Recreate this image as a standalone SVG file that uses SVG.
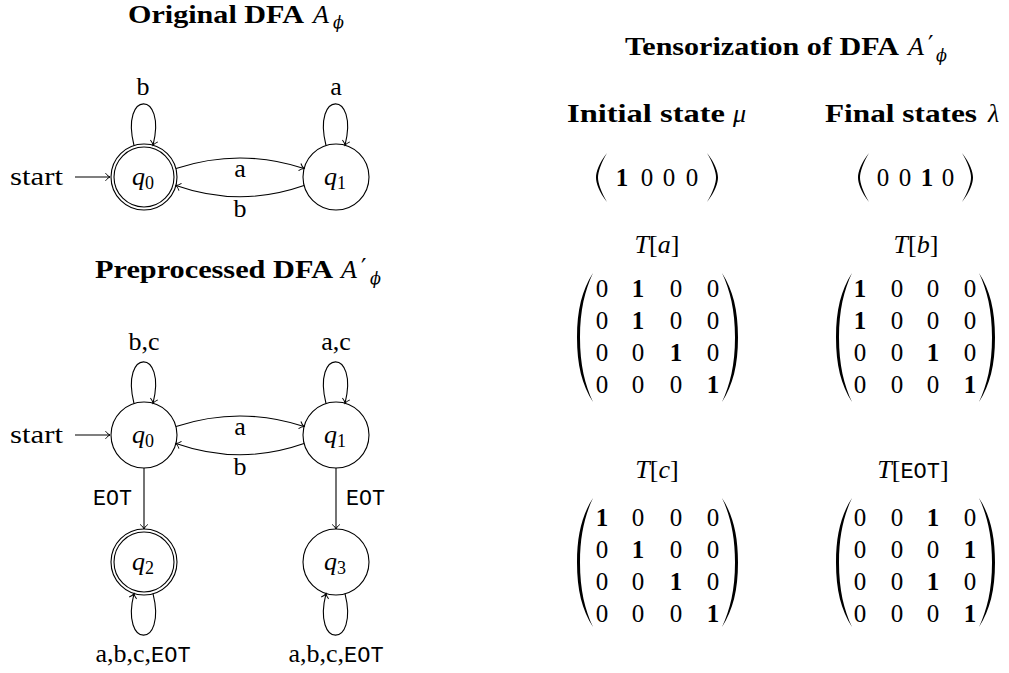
<svg xmlns="http://www.w3.org/2000/svg" width="1009" height="673" viewBox="0 0 1009 673">
<style>
text{font-family:"Liberation Serif","DejaVu Serif",serif;fill:#000}
.r{font-size:26px}
.bt{font-size:25px;font-weight:bold}
.mi{font-size:26px;font-style:italic}
.sub{font-size:18px}
.gr{font-family:"DejaVu Serif",serif;font-size:16px;font-style:italic;fill:#000}
.pr{font-family:"DejaVu Serif",serif;font-size:24px;fill:#000}
.tt{font-family:"Liberation Mono","DejaVu Sans Mono",monospace;font-size:22px}
.d{font-size:25px;text-anchor:middle}
.db{font-size:25px;font-weight:bold;text-anchor:middle}
.c{text-anchor:middle}
.st{fill:none;stroke:#000;stroke-width:1.1}
.par{fill:#000;stroke:none}
</style>
<defs>
<marker id="ah" markerUnits="userSpaceOnUse" markerWidth="12" markerHeight="12" viewBox="-6 -6 12 12" refX="0" refY="0" orient="auto">
<path d="M-4.5,-3.8 C-2.8,-1.6 -1.2,-0.5 0,0 C-1.2,0.5 -2.8,1.6 -4.5,3.8" fill="none" stroke="#000" stroke-width="1"/>
</marker>
</defs>

<!-- Titles -->
<g id="title-original">
<text class="bt" x="128" y="23" textLength="176" lengthAdjust="spacingAndGlyphs">Original DFA</text>
<text class="mi" x="313" y="23">A</text><text class="gr" x="333" y="28">ϕ</text>
</g>
<g id="title-preprocessed">
<text class="bt" x="95" y="278" textLength="238" lengthAdjust="spacingAndGlyphs">Preprocessed DFA</text>
<text class="mi" x="341" y="278">A</text><text class="pr" x="361" y="276">′</text><text class="gr" x="370" y="284">ϕ</text>
</g>
<g id="title-tensor">
<text class="bt" x="625" y="55" textLength="274" lengthAdjust="spacingAndGlyphs">Tensorization of DFA</text>
<text class="mi" x="908" y="55">A</text><text class="pr" x="928" y="53">′</text><text class="gr" x="936" y="61">ϕ</text>
</g>

<!-- Top DFA nodes -->
<g id="top-q0">
<circle class="st" cx="144" cy="177" r="33"/>
<circle class="st" cx="144" cy="177" r="30"/>
<text class="mi" x="132" y="185">q</text><text class="sub" x="145" y="189">0</text>
</g>
<g id="top-q1">
<circle class="st" cx="336" cy="177" r="33"/>
<text class="mi" x="324" y="185">q</text><text class="sub" x="337" y="189">1</text>
</g>
<g id="top-start"><text class="r" x="10" y="185" textLength="53" lengthAdjust="spacingAndGlyphs">start</text></g>

<!-- Bottom DFA nodes -->
<g id="bot-q0">
<circle class="st" cx="144" cy="435" r="33"/>
<text class="mi" x="132" y="443">q</text><text class="sub" x="145" y="447">0</text>
</g>
<g id="bot-q1">
<circle class="st" cx="336" cy="435" r="33"/>
<text class="mi" x="324" y="443">q</text><text class="sub" x="337" y="447">1</text>
</g>
<g id="bot-q2">
<circle class="st" cx="144" cy="562" r="33"/>
<circle class="st" cx="144" cy="562" r="30"/>
<text class="mi" x="132" y="570">q</text><text class="sub" x="145" y="574">2</text>
</g>
<g id="bot-q3">
<circle class="st" cx="336" cy="562" r="33"/>
<text class="mi" x="324" y="570">q</text><text class="sub" x="337" y="574">3</text>
</g>
<g id="bot-start"><text class="r" x="10" y="443" textLength="53" lengthAdjust="spacingAndGlyphs">start</text></g>

<!-- Connectors -->
<g id="connectors" class="st" marker-end="url(#ah)">
<path d="M75,177 L110,177"/>
<path d="M134,145.5 C120,90 167,90 153,145.3"/>
<path d="M326,145.5 C312,90 359,90 345,145.3"/>
<path d="M176,168.5 Q240,147.5 304,168.5"/>
<path d="M304,185.5 Q240,208 176,185.5"/>

<path d="M75,435 L110,435"/>
<path d="M134,403.5 C120,348 167,348 153,403.3"/>
<path d="M326,403.5 C312,348 359,348 345,403.3"/>
<path d="M176,426.5 Q240,405.5 304,426.5"/>
<path d="M304,443.5 Q240,466 176,443.5"/>
<path d="M144,468 L144,529"/>
<path d="M336,468 L336,529"/>
<path d="M153,593.7 C167,649 120,649 134,593.6"/>
<path d="M345,593.7 C359,649 312,649 326,593.6"/>
</g>

<!-- Edge labels -->
<g id="edge-labels">
<text class="r c" x="143" y="95">b</text>
<text class="r c" x="336" y="95">a</text>
<text class="r c" x="240" y="177">a</text>
<text class="r c" x="240" y="217">b</text>
<text class="r c" x="144" y="350">b,c</text>
<text class="r c" x="336" y="350">a,c</text>
<text class="r c" x="240" y="435">a</text>
<text class="r c" x="240" y="475">b</text>
<text class="tt" x="93" y="505" textLength="39" lengthAdjust="spacingAndGlyphs">EOT</text>
<text class="tt" x="346" y="505" textLength="39" lengthAdjust="spacingAndGlyphs">EOT</text>
<text class="c" x="143" y="662"><tspan class="r">a,b,c,</tspan><tspan class="tt">EOT</tspan></text>
<text class="c" x="336" y="662"><tspan class="r">a,b,c,</tspan><tspan class="tt">EOT</tspan></text>
</g>

<!-- Right side -->
<g id="initial-state">
<text class="bt" x="567" y="122" textLength="158" lengthAdjust="spacingAndGlyphs">Initial state</text>
<text class="mi" x="733" y="122">μ</text>
<path class="par" d="M607,153 C599,163 596,172 596,177.5 C596,183 599,192 607,202 C601,192 598,183 598,177.5 C598,172 601,163 607,153 Z"/>
<text class="db" x="622" y="186">1</text><text class="d" x="647" y="186">0</text><text class="d" x="669" y="186">0</text><text class="d" x="692" y="186">0</text>
<path class="par" d="M707,153 C715,163 718,172 718,177.5 C718,183 715,192 707,202 C713,192 716,183 716,177.5 C716,172 713,163 707,153 Z"/>
</g>
<g id="final-states">
<text class="bt" x="825" y="122" textLength="152" lengthAdjust="spacingAndGlyphs">Final states</text>
<text class="mi" x="988" y="122">λ</text>
<path class="par" d="M869,153 C861,163 858,172 858,177.5 C858,183 861,192 869,202 C863,192 860,183 860,177.5 C860,172 863,163 869,153 Z"/>
<text class="d" x="883" y="186">0</text><text class="d" x="905" y="186">0</text><text class="db" x="927" y="186">1</text><text class="d" x="948" y="186">0</text>
<path class="par" d="M962,153 C970,163 973,172 973,177.5 C973,183 970,192 962,202 C968,192 971,183 971,177.5 C971,172 968,163 962,153 Z"/>
</g>

<g id="T-a">
<text x="657" y="253" class="c"><tspan class="mi">T</tspan><tspan class="r">[</tspan><tspan class="mi">a</tspan><tspan class="r">]</tspan></text>
<path class="par" d="M593,273 C582,290 577,310 577,337.5 C577,365 582,385 593,402 C585,385 580,365 580,337.5 C580,310 585,290 593,273 Z"/>
<path class="par" d="M722,273 C733,290 738,310 738,337.5 C738,365 733,385 722,402 C730,385 735,365 735,337.5 C735,310 730,290 722,273 Z"/>
<text class="d" x="602" y="297">0</text><text class="db" x="638" y="297">1</text><text class="d" x="676" y="297">0</text><text class="d" x="713" y="297">0</text>
<text class="d" x="602" y="329">0</text><text class="db" x="638" y="329">1</text><text class="d" x="676" y="329">0</text><text class="d" x="713" y="329">0</text>
<text class="d" x="602" y="361">0</text><text class="d" x="638" y="361">0</text><text class="db" x="676" y="361">1</text><text class="d" x="713" y="361">0</text>
<text class="d" x="602" y="393">0</text><text class="d" x="638" y="393">0</text><text class="d" x="676" y="393">0</text><text class="db" x="713" y="393">1</text>
</g>
<g id="T-b">
<text x="916" y="253" class="c"><tspan class="mi">T</tspan><tspan class="r">[</tspan><tspan class="mi">b</tspan><tspan class="r">]</tspan></text>
<path class="par" d="M852,273 C841,290 836,310 836,337.5 C836,365 841,385 852,402 C844,385 839,365 839,337.5 C839,310 844,290 852,273 Z"/>
<path class="par" d="M979,273 C990,290 995,310 995,337.5 C995,365 990,385 979,402 C987,385 992,365 992,337.5 C992,310 987,290 979,273 Z"/>
<text class="db" x="860" y="297">1</text><text class="d" x="897" y="297">0</text><text class="d" x="933" y="297">0</text><text class="d" x="970" y="297">0</text>
<text class="db" x="860" y="329">1</text><text class="d" x="897" y="329">0</text><text class="d" x="933" y="329">0</text><text class="d" x="970" y="329">0</text>
<text class="d" x="860" y="361">0</text><text class="d" x="897" y="361">0</text><text class="db" x="933" y="361">1</text><text class="d" x="970" y="361">0</text>
<text class="d" x="860" y="393">0</text><text class="d" x="897" y="393">0</text><text class="d" x="933" y="393">0</text><text class="db" x="970" y="393">1</text>
</g>
<g id="T-c">
<text x="657" y="478" class="c"><tspan class="mi">T</tspan><tspan class="r">[</tspan><tspan class="mi">c</tspan><tspan class="r">]</tspan></text>
<path class="par" d="M593,498 C582,515 577,535 577,562.5 C577,590 582,610 593,627 C585,610 580,590 580,562.5 C580,535 585,515 593,498 Z"/>
<path class="par" d="M722,498 C733,515 738,535 738,562.5 C738,590 733,610 722,627 C730,610 735,590 735,562.5 C735,535 730,515 722,498 Z"/>
<text class="db" x="602" y="526">1</text><text class="d" x="638" y="526">0</text><text class="d" x="676" y="526">0</text><text class="d" x="713" y="526">0</text>
<text class="d" x="602" y="558">0</text><text class="db" x="638" y="558">1</text><text class="d" x="676" y="558">0</text><text class="d" x="713" y="558">0</text>
<text class="d" x="602" y="590">0</text><text class="d" x="638" y="590">0</text><text class="db" x="676" y="590">1</text><text class="d" x="713" y="590">0</text>
<text class="d" x="602" y="622">0</text><text class="d" x="638" y="622">0</text><text class="d" x="676" y="622">0</text><text class="db" x="713" y="622">1</text>
</g>
<g id="T-EOT">
<text x="913" y="478" class="c"><tspan class="mi">T</tspan><tspan class="r">[</tspan><tspan class="tt">EOT</tspan><tspan class="r">]</tspan></text>
<path class="par" d="M852,498 C841,515 836,535 836,562.5 C836,590 841,610 852,627 C844,610 839,590 839,562.5 C839,535 844,515 852,498 Z"/>
<path class="par" d="M979,498 C990,515 995,535 995,562.5 C995,590 990,610 979,627 C987,610 992,590 992,562.5 C992,535 987,515 979,498 Z"/>
<text class="d" x="860" y="526">0</text><text class="d" x="897" y="526">0</text><text class="db" x="933" y="526">1</text><text class="d" x="970" y="526">0</text>
<text class="d" x="860" y="558">0</text><text class="d" x="897" y="558">0</text><text class="d" x="933" y="558">0</text><text class="db" x="970" y="558">1</text>
<text class="d" x="860" y="590">0</text><text class="d" x="897" y="590">0</text><text class="db" x="933" y="590">1</text><text class="d" x="970" y="590">0</text>
<text class="d" x="860" y="622">0</text><text class="d" x="897" y="622">0</text><text class="d" x="933" y="622">0</text><text class="db" x="970" y="622">1</text>
</g>
</svg>
